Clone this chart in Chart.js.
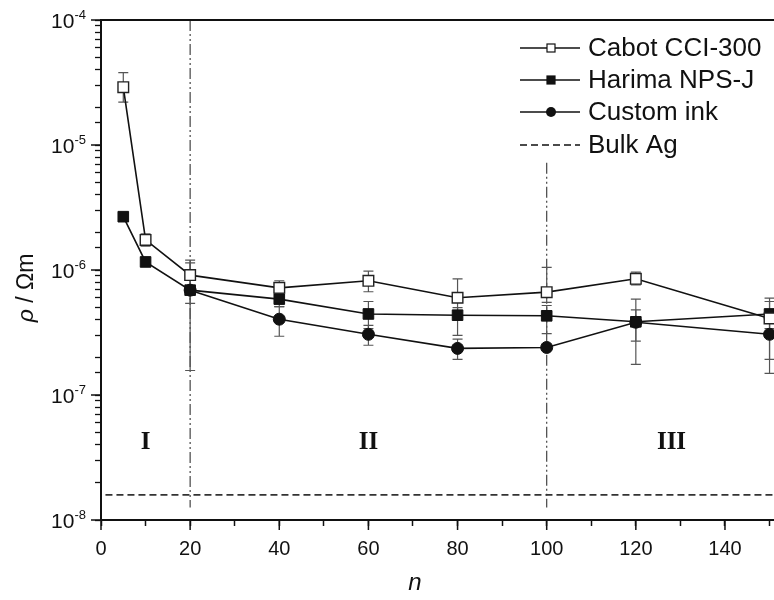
<!DOCTYPE html>
<html>
<head>
<meta charset="utf-8">
<script src="https://cdn.jsdelivr.net/npm/chart.js@4.4.1/dist/chart.umd.min.js"></script>
<style>
    html, body { margin: 0; padding: 0; background: #fff; }
    #wrap { width: 774px; height: 600px; }
</style>
</head>
<body>
<div id="wrap"><canvas id="rhoChart" width="774" height="600"></canvas></div>
<script>
// number of printed layers
const layers = [5, 10, 20, 40, 60, 80, 100, 120, 150];

// resistivity in ohm m, with error bar ends
const cabot    = [2.9e-5, 1.74e-6, 9.1e-7, 7.2e-7, 8.2e-7, 6.0e-7, 6.65e-7, 8.5e-7, 4.1e-7];
const cabotHi  = [3.8e-5, 1.95e-6, 1.14e-6, 8.2e-7, 9.8e-7, 8.5e-7, 1.05e-6, 9.6e-7, 5.6e-7];
const cabotLo  = [2.2e-5, 1.55e-6, 7.2e-7, 6.5e-7, 6.7e-7, 4.2e-7, 5.5e-7, 7.6e-7, 3.4e-7];

const harima   = [2.67e-6, 1.16e-6, 6.9e-7, 5.85e-7, 4.45e-7, 4.35e-7, 4.3e-7, 3.85e-7, 4.45e-7];
const harimaHi = [null, null, 1.0e-6, 7.0e-7, 5.6e-7, 5.0e-7, 5.2e-7, 5.85e-7, 5.95e-7];
const harimaLo = [null, null, 5.4e-7, 5.1e-7, 3.4e-7, 3.0e-7, 3.1e-7, 2.7e-7, 1.93e-7];

const custom   = [null, null, 6.9e-7, 4.04e-7, 3.06e-7, 2.36e-7, 2.4e-7, 3.82e-7, 3.06e-7];
const customHi = [null, null, 1.2e-6, 5.1e-7, 3.6e-7, 2.8e-7, null, 4.8e-7, 4.0e-7];
const customLo = [null, null, 1.57e-7, 2.95e-7, 2.5e-7, 1.93e-7, null, 1.76e-7, 1.49e-7];

// bulk silver reference
const bulkAg = 1.59e-8;

// regime boundaries and labels
const boundaries = [20, 100];
const boundaryTop = [1e-4, 7.2e-6];
const boundaryBottom = 1.26e-8;
const regimeNames = ['I', 'II', 'III'];
const regimeX = [10, 60, 128];
const regimeY = 4.2e-8;

const yDecades = [1e-8, 1e-7, 1e-6, 1e-5, 1e-4];
const xMin = 0, xMax = 151;

const points = (vals) => layers.map((n, i) => ({ x: n, y: vals[i] }));

const errorSets = [
    [cabotHi, cabotLo],
    [harimaHi, harimaLo],
    [customHi, customLo]
];

// Function to draw everything Chart.js can't do by itself
const decorations = {
    id: 'decorations',
    beforeDatasetsDraw(chart) {
        const { ctx, scales: { x, y } } = chart;
        ctx.save();

        // dash-dot-dot lines between regimes
        ctx.strokeStyle = '#444';
        ctx.lineWidth = 1.2;
        ctx.setLineDash([11, 3, 2, 3, 2, 3]);
        boundaries.forEach((n, i) => {
            const px = x.getPixelForValue(n);
            ctx.beginPath();
            ctx.moveTo(px, y.getPixelForValue(boundaryTop[i]));
            ctx.lineTo(px, y.getPixelForValue(boundaryBottom));
            ctx.stroke();
        });

        // error bars
        ctx.setLineDash([]);
        ctx.strokeStyle = '#555';
        ctx.lineWidth = 1.2;
        errorSets.forEach(([hi, lo]) => {
            layers.forEach((n, i) => {
                if (hi[i] == null) return;
                const px = x.getPixelForValue(n);
                const top = y.getPixelForValue(hi[i]);
                const bot = y.getPixelForValue(lo[i]);
                ctx.beginPath();
                ctx.moveTo(px, top); ctx.lineTo(px, bot);
                ctx.moveTo(px - 5, top); ctx.lineTo(px + 5, top);
                ctx.moveTo(px - 5, bot); ctx.lineTo(px + 5, bot);
                ctx.stroke();
            });
        });
        ctx.restore();
    },
    afterDraw(chart) {
        const { ctx, chartArea, scales: { x, y } } = chart;
        ctx.save();

        // top frame
        ctx.strokeStyle = '#111';
        ctx.lineWidth = 2;
        ctx.beginPath();
        ctx.moveTo(chartArea.left - 1, chartArea.top);
        ctx.lineTo(chartArea.right, chartArea.top);
        ctx.stroke();

        // longer major ticks
        ctx.lineWidth = 1.5;
        yDecades.forEach(v => {
            const py = y.getPixelForValue(v);
            ctx.beginPath();
            ctx.moveTo(chartArea.left - 10, py);
            ctx.lineTo(chartArea.left, py);
            ctx.stroke();
        });
        for (let n = 0; n <= 140; n += 20) {
            const px = x.getPixelForValue(n);
            ctx.beginPath();
            ctx.moveTo(px, chartArea.bottom);
            ctx.lineTo(px, chartArea.bottom + 10);
            ctx.stroke();
        }

        // y tick labels with superscript exponent
        ctx.fillStyle = '#111';
        ctx.textBaseline = 'alphabetic';
        yDecades.forEach(v => {
            const py = y.getPixelForValue(v);
            const exp = String(Math.round(Math.log10(v)));
            ctx.font = '13px "Liberation Sans", Arial, sans-serif';
            ctx.textAlign = 'right';
            ctx.fillText(exp, 86, py - 1);
            const ew = ctx.measureText(exp).width;
            ctx.font = '21px "Liberation Sans", Arial, sans-serif';
            ctx.fillText('10', 86 - ew, py + 8);
        });

        // axis titles
        ctx.textAlign = 'center';
        ctx.textBaseline = 'middle';
        ctx.font = 'italic 24px "Liberation Sans", Arial, sans-serif';
        ctx.fillText('n', 415, 583);

        ctx.save();
        ctx.translate(27, 288);
        ctx.rotate(-Math.PI / 2);
        ctx.textAlign = 'left';
        ctx.font = 'italic 23px "Liberation Sans", Arial, sans-serif';
        const rho = 'ρ';
        const rest = ' / Ωm';
        const rw = ctx.measureText(rho).width;
        ctx.font = '23px "Liberation Sans", Arial, sans-serif';
        const total = rw + ctx.measureText(rest).width;
        ctx.font = 'italic 23px "Liberation Sans", Arial, sans-serif';
        ctx.fillText(rho, -total / 2, 0);
        ctx.font = '23px "Liberation Sans", Arial, sans-serif';
        ctx.fillText(rest, -total / 2 + rw, 0);
        ctx.restore();

        // regime labels
        ctx.font = 'bold 25px "Liberation Serif", "Times New Roman", serif';
        ctx.textAlign = 'center';
        regimeNames.forEach((name, i) => {
            ctx.fillText(name, x.getPixelForValue(regimeX[i]), y.getPixelForValue(regimeY));
        });

        // legend
        const rowY = [48, 80, 112, 145];
        chart.data.datasets.forEach((ds, i) => {
            const cy = rowY[i];
            ctx.strokeStyle = '#111';
            ctx.lineWidth = 1.6;
            ctx.setLineDash(ds.borderDash || []);
            ctx.beginPath();
            ctx.moveTo(520, cy);
            ctx.lineTo(580, cy);
            ctx.stroke();
            ctx.setLineDash([]);
            if (ds.legendMarker === 'rect') {
                ctx.fillStyle = ds.pointBackgroundColor;
                ctx.fillRect(547, cy - 4, 8, 8);
                ctx.lineWidth = 1.2;
                ctx.strokeRect(547, cy - 4, 8, 8);
            } else if (ds.legendMarker === 'circle') {
                ctx.fillStyle = '#111';
                ctx.beginPath();
                ctx.arc(551, cy, 5, 0, Math.PI * 2);
                ctx.fill();
            }
            ctx.fillStyle = '#111';
            ctx.font = '26px "Liberation Sans", Arial, sans-serif';
            ctx.textAlign = 'left';
            ctx.textBaseline = 'middle';
            ctx.fillText(ds.label, 588, cy + 1);
        });
        ctx.restore();
    }
};

const ctx = document.getElementById('rhoChart').getContext('2d');

const rhoChart = new Chart(ctx, {
    type: 'line',
    data: {
        datasets: [
            {
                label: 'Cabot CCI-300',
                data: points(cabot),
                borderColor: '#111',
                borderWidth: 1.6,
                pointStyle: 'rect',
                pointRadius: 7.5,
                pointBorderWidth: 1.4,
                pointBackgroundColor: '#fff',
                pointBorderColor: '#222',
                legendMarker: 'rect'
            },
            {
                label: 'Harima NPS-J',
                data: points(harima),
                borderColor: '#111',
                borderWidth: 1.6,
                pointStyle: 'rect',
                pointRadius: 7.5,
                pointBorderWidth: 1,
                pointBackgroundColor: '#111',
                pointBorderColor: '#111',
                legendMarker: 'rect'
            },
            {
                label: 'Custom ink',
                data: points(custom),
                borderColor: '#111',
                borderWidth: 1.6,
                pointStyle: 'circle',
                pointRadius: 6,
                pointBorderWidth: 1,
                pointBackgroundColor: '#111',
                pointBorderColor: '#111',
                legendMarker: 'circle'
            },
            {
                label: 'Bulk Ag',
                data: [{ x: 1, y: bulkAg }, { x: xMax, y: bulkAg }],
                borderColor: '#333',
                borderWidth: 1.6,
                borderDash: [7, 4],
                pointRadius: 0,
                legendMarker: 'none'
            }
        ]
    },
    options: {
        responsive: false,
        animation: false,
        events: [],
        layout: {
            autoPadding: false,
            padding: { top: 20, right: 0, left: 0, bottom: 0 }
        },
        plugins: {
            legend: { display: false },
            tooltip: { enabled: false }
        },
        scales: {
            x: {
                type: 'linear',
                min: xMin,
                max: xMax,
                afterFit: (scale) => {
                    scale.height = 80;
                    scale.paddingRight = 0;
                    scale.paddingLeft = 0;
                },
                border: { display: true, color: '#111', width: 2 },
                grid: { drawOnChartArea: false, tickLength: 6, color: '#111', tickWidth: 1.5 },
                ticks: {
                    stepSize: 10,
                    includeBounds: false,
                    autoSkip: false,
                    maxRotation: 0,
                    padding: 11,
                    color: '#111',
                    font: { family: '"Liberation Sans", Arial, sans-serif', size: 20 },
                    callback: (v) => (v % 20 === 0 && v <= 140 ? String(v) : '')
                }
            },
            y: {
                type: 'logarithmic',
                min: 1e-8,
                max: 1e-4,
                afterFit: (scale) => {
                    scale.width = 101;
                    scale.paddingTop = 0;
                    scale.paddingBottom = 0;
                },
                border: { display: true, color: '#111', width: 2 },
                grid: { drawOnChartArea: false, tickLength: 6, color: '#111', tickWidth: 1.3 },
                ticks: {
                    autoSkip: false,
                    callback: () => ''
                }
            }
        }
    },
    plugins: [decorations]
});
</script>
</body>
</html>
